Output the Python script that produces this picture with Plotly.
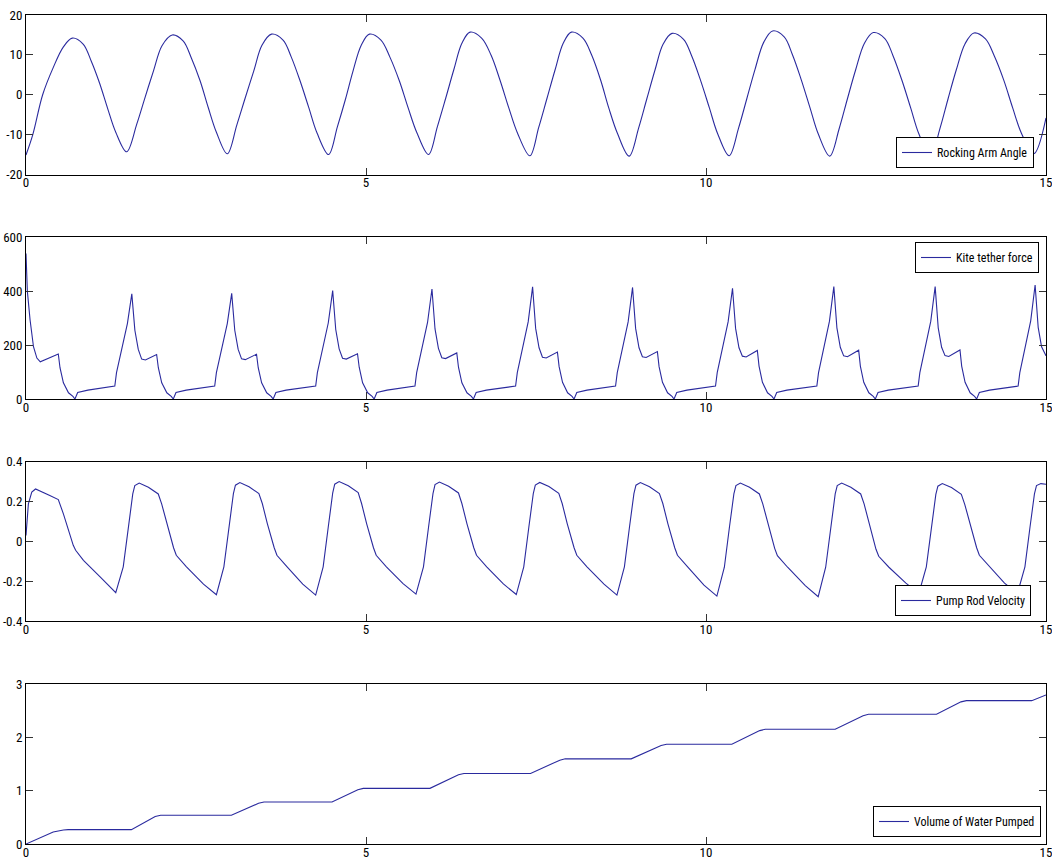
import plotly.graph_objects as go
from plotly.subplots import make_subplots

# ---- data (time in s) ----
ANGLE_T = [0.00, 0.10, 0.245, 0.40, 0.55, 0.68,
           0.84, 0.96, 1.08, 1.20, 1.32, 1.48,
           1.63, 1.75, 1.875, 2.00, 2.15,
           2.31, 2.43, 2.56, 2.68, 2.80, 2.96,
           3.10, 3.22, 3.35, 3.47, 3.61,
           3.78, 3.90, 4.03, 4.16, 4.28, 4.45,
           4.58, 4.70, 4.81, 4.93, 5.05,
           5.22, 5.35, 5.49, 5.62, 5.75, 5.92,
           6.05, 6.17, 6.29, 6.41, 6.53,
           6.70, 6.84, 6.97, 7.10, 7.23, 7.41,
           7.54, 7.66, 7.78, 7.90, 8.02,
           8.19, 8.32, 8.45, 8.57, 8.70, 8.87,
           9.01, 9.13, 9.25, 9.37, 9.50,
           9.67, 9.79, 9.92, 10.05, 10.17, 10.34,
           10.48, 10.60, 10.72, 10.85, 10.98,
           11.15, 11.27, 11.40, 11.53, 11.65, 11.82,
           11.96, 12.08, 12.20, 12.33, 12.46,
           12.63, 12.75, 12.88, 13.01, 13.13, 13.30,
           13.44, 13.56, 13.68, 13.81, 13.94,
           14.11, 14.24, 14.38, 14.51, 14.64, 14.82,
           15.00]
ANGLE_V = [-15.1, -10.0, 0.0, 6.8, 12.0, 14.2,
           12.7, 8.4, 3.0, -3.4, -9.4, -14.3,
           -7.3, -0.7, 6.0, 12.3, 15.0,
           13.5, 9.3, 3.5, -3.2, -9.4, -14.8,
           -7.6, -1.0, 6.0, 12.4, 15.2,
           13.7, 9.5, 3.5, -3.3, -9.6, -15.0,
           -8.0, -1.0, 6.0, 12.4, 15.2,
           13.7, 9.5, 3.5, -3.3, -9.6, -15.0,
           -8.0, -1.0, 6.2, 12.9, 15.7,
           14.2, 9.9, 3.7, -3.3, -9.7, -15.3,
           -8.2, -1.0, 6.2, 12.9, 15.7,
           14.2, 9.9, 3.7, -3.3, -9.8, -15.4,
           -8.3, -1.0, 6.2, 12.7, 15.4,
           13.9, 9.7, 3.6, -3.3, -9.7, -15.3,
           -8.3, -1.0, 6.3, 13.2, 16.0,
           14.5, 10.1, 3.8, -3.3, -9.8, -15.4,
           -8.4, -1.0, 6.2, 12.9, 15.6,
           14.1, 9.8, 3.7, -3.3, -9.8, -15.5,
           -8.5, -1.0, 6.2, 12.8, 15.5,
           14.0, 9.7, 3.6, -3.3, -9.7, -14.8,
           -5.8]

FORCE_T = [0.00, 0.02, 0.06, 0.11, 0.16, 0.21, 0.475, 0.50, 0.55, 0.625, 0.69, 0.72, 0.76, 0.91,
           1.306, 1.331, 1.491, 1.556, 1.601, 1.651, 1.701, 1.756, 1.921, 1.946, 1.996, 2.071, 2.136, 2.166, 2.206, 2.356,
           2.775, 2.80, 2.96, 3.025, 3.07, 3.12, 3.17, 3.225, 3.39, 3.415, 3.465, 3.54, 3.605, 3.635, 3.675, 3.825,
           4.26, 4.285, 4.445, 4.51, 4.555, 4.605, 4.655, 4.71, 4.875, 4.90, 4.95, 5.025, 5.09, 5.12, 5.16, 5.31,
           5.72, 5.745, 5.905, 5.97, 6.015, 6.065, 6.115, 6.17, 6.335, 6.36, 6.41, 6.485, 6.55, 6.58, 6.62, 6.77,
           7.20, 7.225, 7.385, 7.45, 7.495, 7.545, 7.595, 7.65, 7.815, 7.84, 7.89, 7.965, 8.03, 8.06, 8.10, 8.25,
           8.67, 8.695, 8.855, 8.92, 8.965, 9.015, 9.065, 9.12, 9.285, 9.31, 9.36, 9.435, 9.50, 9.53, 9.57, 9.72,
           10.14, 10.165, 10.325, 10.39, 10.435, 10.485, 10.535, 10.59, 10.755, 10.78, 10.83, 10.905, 10.97, 11.00, 11.04, 11.19,
           11.63, 11.655, 11.815, 11.88, 11.925, 11.975, 12.025, 12.08, 12.245, 12.27, 12.32, 12.395, 12.46, 12.49, 12.53, 12.68,
           13.12, 13.145, 13.305, 13.37, 13.415, 13.465, 13.515, 13.57, 13.735, 13.76, 13.81, 13.885, 13.95, 13.98, 14.02, 14.17,
           14.59, 14.615, 14.775, 14.84, 14.885, 14.935, 15.00]
FORCE_V = [540, 400, 293, 194, 152, 138, 167, 116, 60, 23, 10, 0, 24, 33,
           48, 98, 280, 390, 255, 184, 148, 145, 165, 116, 60, 23, 10, 0, 24, 33,
           48, 98, 280, 392, 255, 184, 149, 146, 166, 116, 60, 23, 10, 0, 24, 33,
           48, 98, 282, 402, 258, 186, 151, 148, 168, 118, 60, 23, 10, 0, 24, 33,
           48, 98, 284, 408, 260, 188, 153, 150, 171, 118, 60, 23, 10, 0, 24, 33,
           48, 98, 286, 416, 262, 190, 155, 152, 174, 120, 62, 23, 10, 0, 24, 33,
           48, 98, 286, 414, 262, 190, 157, 154, 176, 120, 62, 23, 10, 0, 24, 33,
           48, 98, 286, 411, 262, 190, 159, 156, 180, 122, 62, 23, 10, 0, 24, 33,
           48, 98, 288, 417, 264, 192, 160, 157, 181, 122, 62, 23, 10, 0, 24, 33,
           48, 98, 288, 417, 264, 192, 161, 158, 182, 122, 62, 23, 10, 0, 24, 33,
           48, 98, 290, 423, 266, 194, 160]

VEL_T = [0.00, 0.035, 0.085, 0.14, 0.35, 0.475, 0.55, 0.695, 0.73, 0.845, 1.09,
         1.32, 1.43, 1.505, 1.57, 1.60, 1.665, 1.80, 1.945, 1.995, 2.07, 2.17, 2.21, 2.36, 2.61,
         2.80, 2.91, 2.985, 3.05, 3.08, 3.145, 3.28, 3.425, 3.475, 3.55, 3.65, 3.69, 3.84, 4.07,
         4.26, 4.37, 4.445, 4.51, 4.54, 4.605, 4.74, 4.885, 4.935, 5.01, 5.11, 5.15, 5.30, 5.545,
         5.735, 5.845, 5.92, 5.985, 6.015, 6.08, 6.215, 6.36, 6.41, 6.485, 6.585, 6.625, 6.775, 7.02,
         7.21, 7.32, 7.395, 7.46, 7.49, 7.555, 7.69, 7.835, 7.885, 7.96, 8.06, 8.10, 8.25, 8.50,
         8.69, 8.80, 8.875, 8.94, 8.97, 9.035, 9.17, 9.315, 9.365, 9.44, 9.54, 9.58, 9.73, 9.97,
         10.16, 10.27, 10.345, 10.41, 10.44, 10.505, 10.64, 10.785, 10.835, 10.91, 11.01, 11.05, 11.20, 11.46,
         11.65, 11.76, 11.835, 11.90, 11.93, 11.995, 12.13, 12.275, 12.325, 12.40, 12.50, 12.54, 12.69, 12.94,
         13.13, 13.24, 13.315, 13.38, 13.41, 13.475, 13.61, 13.755, 13.805, 13.88, 13.98, 14.02, 14.17, 14.39,
         14.58, 14.69, 14.765, 14.83, 14.86, 14.925, 15.00]
VEL_V = [0.03, 0.188, 0.247, 0.263, 0.23, 0.21, 0.138, -0.02, -0.045, -0.095, -0.178,
         -0.258, -0.128, 0.072, 0.238, 0.28, 0.293, 0.272, 0.238, 0.188, 0.088, -0.032, -0.07, -0.128, -0.215,
         -0.268, -0.128, 0.072, 0.24, 0.282, 0.295, 0.274, 0.24, 0.19, 0.088, -0.032, -0.07, -0.128, -0.215,
         -0.27, -0.128, 0.072, 0.242, 0.287, 0.30, 0.279, 0.245, 0.19, 0.088, -0.032, -0.07, -0.128, -0.212,
         -0.265, -0.128, 0.072, 0.24, 0.285, 0.298, 0.277, 0.243, 0.19, 0.088, -0.032, -0.07, -0.128, -0.214,
         -0.267, -0.128, 0.072, 0.24, 0.283, 0.296, 0.275, 0.241, 0.19, 0.088, -0.032, -0.07, -0.128, -0.215,
         -0.27, -0.128, 0.072, 0.24, 0.282, 0.295, 0.274, 0.24, 0.19, 0.088, -0.032, -0.07, -0.128, -0.22,
         -0.275, -0.13, 0.072, 0.238, 0.28, 0.293, 0.272, 0.238, 0.188, 0.088, -0.035, -0.072, -0.13, -0.222,
         -0.278, -0.13, 0.072, 0.238, 0.28, 0.293, 0.272, 0.238, 0.188, 0.088, -0.04, -0.075, -0.13, -0.21,
         -0.262, -0.128, 0.072, 0.236, 0.277, 0.29, 0.27, 0.236, 0.186, 0.088, -0.032, -0.07, -0.128, -0.21,
         -0.262, -0.128, 0.072, 0.238, 0.28, 0.29, 0.287]

VOL_T = [0.00, 0.40, 0.55, 0.62, 1.55, 1.90, 1.98, 3.02, 3.42, 3.50, 4.50, 4.88, 4.96,
         5.94, 6.36, 6.44, 7.42, 7.85, 7.93, 8.90, 9.34, 9.42, 10.38, 10.79, 10.87,
         11.90, 12.31, 12.39, 13.39, 13.75, 13.83, 14.79, 15.00]
VOL_V = [0.00, 0.225, 0.262, 0.27, 0.27, 0.515, 0.54, 0.54, 0.765, 0.79, 0.79, 1.02, 1.045,
         1.045, 1.30, 1.325, 1.325, 1.575, 1.60, 1.60, 1.85, 1.875, 1.875, 2.13, 2.155,
         2.155, 2.41, 2.437, 2.437, 2.67, 2.693, 2.693, 2.80]

NAMES = ["Rocking Arm Angle", "Kite tether force", "Pump Rod Velocity", "Volume of Water Pumped"]
X_TICKS = [0, 5, 10, 15]
Y_TICKS = [[-20, -10, 0, 10, 20], [0, 200, 400, 600], [-0.4, -0.2, 0, 0.2, 0.4], [0, 1, 2, 3]]
Y_TICKTEXT = [["-20", "-10", "0", "10", "20"], ["0", "200", "400", "600"],
              ["-0.4", "-0.2", "0", "0.2", "0.4"], ["0", "1", "2", "3"]]

# ---- styling ----
FONT = "Roboto Condensed, DejaVu Sans Condensed, sans-serif"
LINE = "#2a2a9e"
W, H = 1052, 862
ML, MR, MT, MB = 26, 6, 15, 18
# pixel tops/bottoms of each panel in the reference
PANELS = [(15, 174.5), (237.3, 399), (461.7, 621), (684.3, 844)]
LEGENDS = [  # (right px, y px, anchor)
    (1034, 168, "bottom"), (1039, 242, "top"), (1031, 616, "bottom"), (1041, 837, "bottom")]


def py2paper(p):
    return (H - MB - p) / (H - MT - MB)


def px2paper(p):
    return (p - ML) / (W - ML - MR)


fig = make_subplots(rows=4, cols=1)
series = [(ANGLE_T, ANGLE_V, "spline"), (FORCE_T, FORCE_V, "linear"),
          (VEL_T, VEL_V, "linear"), (VOL_T, VOL_V, "linear")]
legend_ids = ["legend", "legend2", "legend3", "legend4"]

for i, (t, v, shape) in enumerate(series):
    fig.add_trace(go.Scatter(x=t, y=v, mode="lines", name=NAMES[i],
                             line=dict(color=LINE, width=1.1, shape=shape),
                             legend=legend_ids[i]), row=i + 1, col=1)

    top, bot = PANELS[i]
    fig.update_yaxes(domain=[py2paper(bot), py2paper(top)],
                     range=[Y_TICKS[i][0], Y_TICKS[i][-1]],
                     tickvals=Y_TICKS[i], ticktext=Y_TICKTEXT[i],
                     row=i + 1, col=1)
    fig.update_xaxes(range=[0, 15], tickvals=X_TICKS, row=i + 1, col=1)

    rx, ry, anchor = LEGENDS[i]
    fig.update_layout({legend_ids[i]: dict(
        x=px2paper(rx), y=py2paper(ry), xanchor="right", yanchor=anchor,
        bgcolor="white", bordercolor="black", borderwidth=1,
        font=dict(family=FONT, size=12, color="black"),
        itemwidth=30, tracegroupgap=0)})

axis_style = dict(ticks="inside", ticklen=7, tickcolor="#333", tickwidth=1,
                  showline=True, linecolor="black", linewidth=1, mirror="allticks",
                  showgrid=False, zeroline=False, automargin=False,
                  tickfont=dict(family=FONT, size=13, color="black"))
fig.update_xaxes(domain=[0, 1], ticklabeloverflow="allow", ticklabelstandoff=-4, **axis_style)
fig.update_yaxes(**axis_style)

fig.update_layout(width=W, height=H, template="none",
                  margin=dict(l=ML, r=MR, t=MT, b=MB),
                  paper_bgcolor="white", plot_bgcolor="white",
                  showlegend=True)

# page body margin removed so the figure sits at the window origin
fig.write_html("out.html", config={"displayModeBar": False},
               post_script="document.body.style.margin='0';document.body.style.overflow='hidden';")
